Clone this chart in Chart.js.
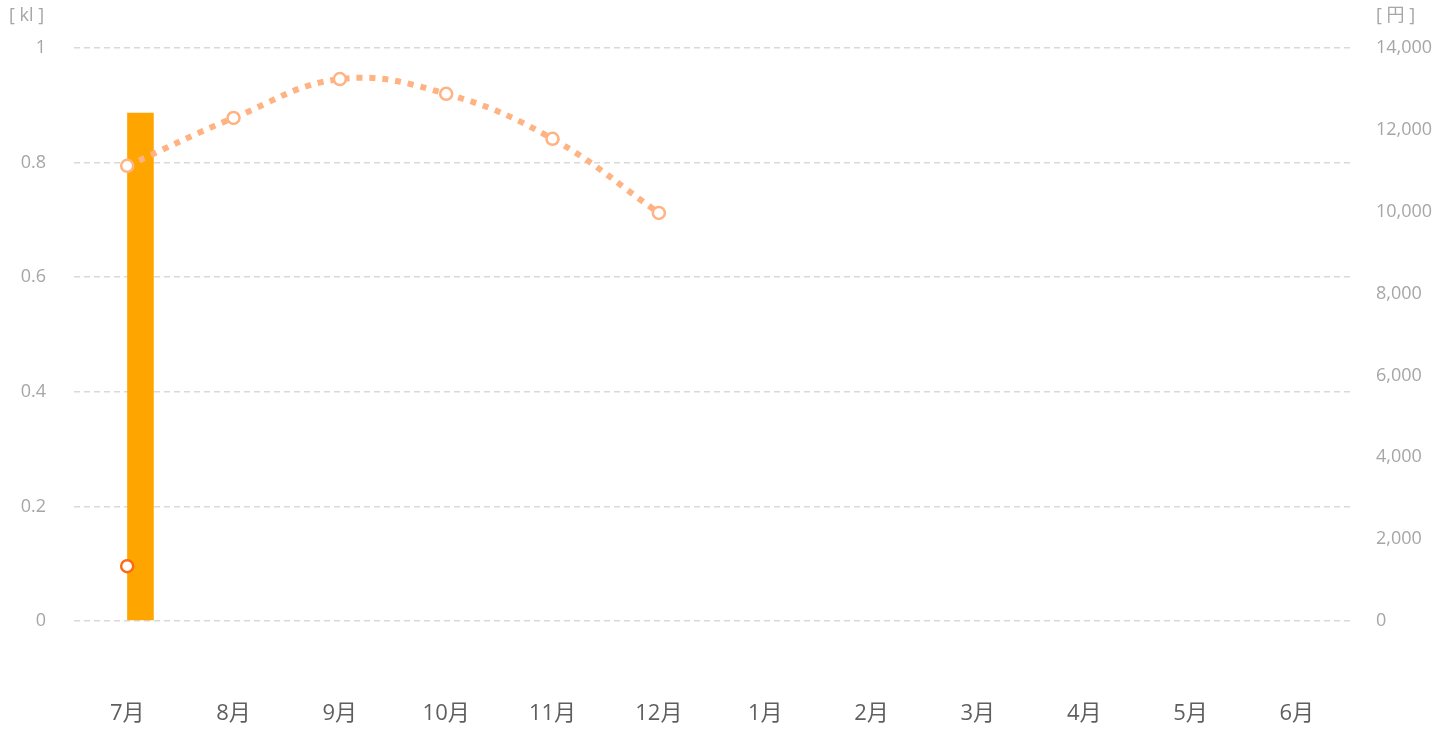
<!DOCTYPE html>
<html>
<head>
<meta charset="utf-8">
<script src="https://cdn.jsdelivr.net/npm/chart.js@4"></script>
<style>
html,body{margin:0;padding:0;background:#fff;}
#wrap{position:relative;width:1452px;height:731px;}
</style>
</head>
<body>
<div id="wrap"><canvas id="c" width="1452" height="731" style="width:1452px;height:731px"></canvas></div>
<script>
const months = ['7月','8月','9月','10月','11月','12月','1月','2月','3月','4月','5月','6月'];
const usagePrev = [null,null,null,null,null,null,null,null,null,null,null,null];
const usageThis = [0.887,null,null,null,null,null,null,null,null,null,null,null];
const costPrev = [11120,12290,13240,12880,11780,9970,null,null,null,null,null,null];
const costThis = [1340,null,null,null,null,null,null,null,null,null,null,null];
const leftTitle = '[ kl ]';
const rightTitle = '[ 円 ]';

const FONT = "'Open Sans', 'Noto Sans CJK JP', sans-serif";

const titlesPlugin = {
  id: 'titles',
  afterDraw(chart) {
    const ctx = chart.ctx;
    ctx.save();
    ctx.font = '18px ' + FONT;
    ctx.fillStyle = '#a6a6a6';
    ctx.textBaseline = 'middle';
    ctx.textAlign = 'left';
    ctx.fillText(leftTitle, 9, 16);
    ctx.fillText(rightTitle, 1376, 16);
    ctx.restore();
  }
};

new Chart(document.getElementById('c'), {
  data: {
    labels: months,
    datasets: [
      { type: 'line', data: costPrev, yAxisID: 'yen', borderColor: '#ffb282', backgroundColor: '#ffffff',
        borderWidth: 6, borderDash: [6, 7], tension: 0.4, pointRadius: 6, pointBorderWidth: 2.5,
        pointBackgroundColor: '#ffffff', pointBorderColor: '#ffb282', order: 1 },
      { type: 'line', data: costThis, yAxisID: 'yen', borderColor: '#ff6a10', backgroundColor: '#ffffff',
        borderWidth: 3, pointRadius: 6, pointBorderWidth: 2.5,
        pointBackgroundColor: '#ffffff', pointBorderColor: '#ff6a10', order: 0 },
      { type: 'bar', data: usagePrev, yAxisID: 'kl', backgroundColor: '#ffd27f',
        categoryPercentage: 0.5, barPercentage: 1.0, order: 2 },
      { type: 'bar', data: usageThis, yAxisID: 'kl', backgroundColor: '#ffa500',
        categoryPercentage: 0.5, barPercentage: 1.0, order: 3 }
    ]
  },
  options: {
    responsive: false,
    maintainAspectRatio: false,
    animation: false,
    layout: { padding: { top: 48, right: 0, bottom: 0, left: 0 } },
    plugins: { legend: { display: false }, tooltip: { enabled: false } },
    scales: {
      x: {
        grid: { display: false, drawTicks: false },
        border: { display: false },
        ticks: { font: { family: FONT, size: 22 }, color: '#5f5f5f', padding: 80 },
        afterFit(s) { s.height = 110; }
      },
      kl: {
        position: 'left', min: 0, max: 1,
        ticks: { stepSize: 0.2, font: { family: FONT, size: 18 }, color: '#a6a6a6', padding: 28,
          callback: v => String(+Number(v).toFixed(1)) },
        grid: { color: '#d9d9d9', lineWidth: 1.5, drawTicks: false },
        border: { display: false, dash: [6, 4] },
        afterFit(s) { s.width = 74; }
      },
      yen: {
        position: 'right', min: 0, max: 14000,
        ticks: { stepSize: 2000, font: { family: FONT, size: 18 }, color: '#a6a6a6', padding: 26,
          callback: v => Number(v).toLocaleString('en-US') },
        grid: { display: false, drawTicks: false },
        border: { display: false },
        afterFit(s) { s.width = 102; }
      }
    }
  },
  plugins: [titlesPlugin]
});
</script>
</body>
</html>
